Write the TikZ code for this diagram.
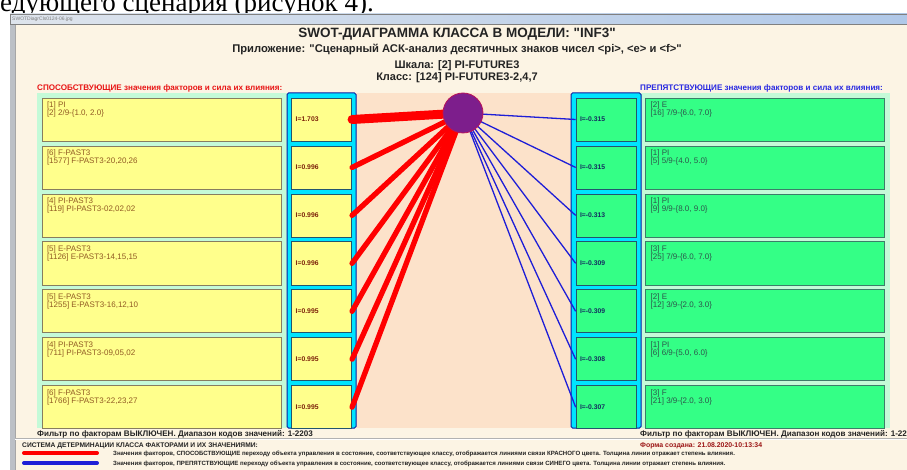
\documentclass[tikz,border=0pt]{standalone}
\usepackage{fontspec}
\setmainfont{Liberation Sans}[Ligatures=TeXOff]
\newfontfamily\docserif{Liberation Serif}
\usepackage{tikz}
\usetikzlibrary{positioning}

\definecolor{wincream}{RGB}{252,244,228}
\definecolor{panelmint}{RGB}{196,250,216}
\definecolor{midpeach}{RGB}{252,226,202}
\definecolor{posyellow}{RGB}{255,255,140}
\definecolor{neggreen}{RGB}{52,255,134}
\definecolor{colcyan}{RGB}{0,228,255}
\definecolor{colframe}{RGB}{10,30,160}
\definecolor{posedge}{RGB}{135,125,95}
\definecolor{negedge}{RGB}{60,125,105}
\definecolor{valedge}{RGB}{35,85,110}
\definecolor{postext}{RGB}{145,90,35}
\definecolor{posvaltext}{RGB}{125,35,10}
\definecolor{negtext}{RGB}{45,85,75}
\definecolor{negvaltext}{RGB}{20,45,95}
\definecolor{linkred}{RGB}{255,0,0}
\definecolor{linkblue}{RGB}{30,30,215}
\definecolor{hubpurple}{RGB}{125,30,140}
\definecolor{hubedge}{RGB}{185,20,90}
\definecolor{headred}{RGB}{232,20,20}
\definecolor{headblue}{RGB}{40,40,225}
\definecolor{darktext}{RGB}{35,35,35}
\definecolor{datered}{RGB}{155,20,20}
\definecolor{barleft}{RGB}{222,228,236}
\definecolor{barright}{RGB}{176,200,232}
\definecolor{frameside}{RGB}{188,192,198}

\newcommand{\fsz}[1]{\fontsize{#1}{#1}\selectfont}
\newcommand{\fitem}[2]{\parbox[c][35pt][t]{229pt}{#1\\{}#2}}

\begin{document}
\begin{tikzpicture}[x=1pt, y=-1pt,
  posbox/.style={rectangle, draw=posedge, fill=posyellow, line width=0.7pt, minimum width=239pt, minimum height=43pt, inner sep=0pt, text=postext, font=\fsz{8}},
  negbox/.style={posbox, draw=negedge, fill=neggreen, text=negtext},
  posval/.style={rectangle, draw=valedge, fill=posyellow, line width=0.7pt, minimum height=43pt, text width=52pt, inner sep=4pt, align=left, text=posvaltext, font=\bfseries\fsz{6.8}},
  negval/.style={posval, fill=neggreen, text=negvaltext},
  valcol/.style={draw=colframe, fill=colcyan, line width=1pt, rounded corners=1.5pt},
  poslink/.style={draw=linkred, line cap=round},
  neglink/.style={draw=linkblue, line width=1.3pt},
  hub/.style={circle, draw=hubedge, fill=hubpurple, line width=0.8pt, minimum size=40pt, inner sep=0pt},
  lbl/.style={inner sep=0pt, text=darktext}
]
\useasboundingbox (0,0) rectangle (907,470);
\clip (0,0) rectangle (907,470);
\fill[white] (0,0) rectangle (907,470);

% page text behind the screenshot
\node[lbl, anchor=base east, font=\docserif\fsz{27}, text=black] (prevline) at (374,12) {следующего сценария (рисунок 4).};

% window
\fill[wincream] (10,24) rectangle (907,470);
\fill[frameside] (10,24) rectangle (15,470);
\draw[gray!70, line width=0.6pt] (15,24) -- (15,470);
\shade[left color=barleft, right color=barright] (10,14) rectangle (907,24);
\draw[gray, line width=0.5pt] (10,14) rectangle (908,24);
\node[lbl, anchor=west, font=\fsz{5}, text=gray] (wintitle) at (12,19) {SWOTDiagrCls0124-06.jpg};

% headings
\node[lbl, anchor=base, font=\bfseries\fsz{13.5}] (title) at (457,38) {SWOT-ДИАГРАММА КЛАССА В МОДЕЛИ: "INF3"};
\node[lbl, anchor=base, font=\bfseries\fsz{11.2}] (app) at (457,52.5) {Приложение: "Сценарный АСК-анализ десятичных знаков чисел <pi>, <e> и <f>"};
\node[lbl, anchor=base, font=\bfseries\fsz{11}] (scale) at (457,69) {Шкала: [2] PI-FUTURE3};
\node[lbl, anchor=base, font=\bfseries\fsz{11}] (klass) at (457,81) {Класс: [124] PI-FUTURE3-2,4,7};
\node[lbl, anchor=base west, font=\bfseries\fsz{8.1}, text=headred] (poshead) at (37,91) {СПОСОБСТВУЮЩИЕ значения факторов и сила их влияния:};
\node[lbl, anchor=base west, font=\bfseries\fsz{8.1}, text=headblue] (neghead) at (640,91) {ПРЕПЯТСТВУЮЩИЕ значения факторов и сила их влияния:};

% panels
\fill[panelmint] (37,93) rectangle (287,427.5);
\fill[panelmint] (641,93) rectangle (890,427.5);
\fill[midpeach] (356,93) rectangle (571,427.5);
\draw[valcol] (287,93) rectangle (356,428);
\draw[valcol] (571,93) rectangle (641,428);

% supporting factors
\node[posbox] (pF1) at (161.5,119.5) {\fitem{[1] PI}{[2] 2/9-\{1.0, 2.0\}}};
\node[posbox, below=4.25pt of pF1] (pF2) {\fitem{[6] F-PAST3}{[1577] F-PAST3-20,20,26}};
\node[posbox, below=4.25pt of pF2] (pF3) {\fitem{[4] PI-PAST3}{[119] PI-PAST3-02,02,02}};
\node[posbox, below=4.25pt of pF3] (pF4) {\fitem{[5] E-PAST3}{[1126] E-PAST3-14,15,15}};
\node[posbox, below=4.25pt of pF4] (pF5) {\fitem{[5] E-PAST3}{[1255] E-PAST3-16,12,10}};
\node[posbox, below=4.25pt of pF5] (pF6) {\fitem{[4] PI-PAST3}{[711] PI-PAST3-09,05,02}};
\node[posbox, below=4.25pt of pF6] (pF7) {\fitem{[6] F-PAST3}{[1766] F-PAST3-22,23,27}};

\node[posval, right=10pt of pF1] (pI1) {I=1.703};
\node[posval, right=10pt of pF2] (pI2) {I=0.996};
\node[posval, right=10pt of pF3] (pI3) {I=0.996};
\node[posval, right=10pt of pF4] (pI4) {I=0.996};
\node[posval, right=10pt of pF5] (pI5) {I=0.995};
\node[posval, right=10pt of pF6] (pI6) {I=0.995};
\node[posval, right=10pt of pF7] (pI7) {I=0.995};

% hindering factors
\node[negval] (nI1) at (606,119.5) {I=-0.315};
\node[negval, below=4.25pt of nI1] (nI2) {I=-0.315};
\node[negval, below=4.25pt of nI2] (nI3) {I=-0.313};
\node[negval, below=4.25pt of nI3] (nI4) {I=-0.309};
\node[negval, below=4.25pt of nI4] (nI5) {I=-0.309};
\node[negval, below=4.25pt of nI5] (nI6) {I=-0.308};
\node[negval, below=4.25pt of nI6] (nI7) {I=-0.307};

\node[negbox, right=9pt of nI1] (nF1) {\fitem{[2] E}{[16] 7/9-\{6.0, 7.0\}}};
\node[negbox, right=9pt of nI2] (nF2) {\fitem{[1] PI}{[5] 5/9-\{4.0, 5.0\}}};
\node[negbox, right=9pt of nI3] (nF3) {\fitem{[1] PI}{[9] 9/9-\{8.0, 9.0\}}};
\node[negbox, right=9pt of nI4] (nF4) {\fitem{[3] F}{[25] 7/9-\{6.0, 7.0\}}};
\node[negbox, right=9pt of nI5] (nF5) {\fitem{[2] E}{[12] 3/9-\{2.0, 3.0\}}};
\node[negbox, right=9pt of nI6] (nF6) {\fitem{[1] PI}{[6] 6/9-\{5.0, 6.0\}}};
\node[negbox, right=9pt of nI7] (nF7) {\fitem{[3] F}{[21] 3/9-\{2.0, 3.0\}}};

% links to the class
\coordinate (ctr) at (463,113);
\draw[poslink, line width=9pt] (ctr) -- (pI1.east);
\draw[poslink, line width=5.3pt] (ctr) -- (pI2.east);
\draw[poslink, line width=5.3pt] (ctr) -- (pI3.east);
\draw[poslink, line width=5.3pt] (ctr) -- (pI4.east);
\draw[poslink, line width=5.3pt] (ctr) -- (pI5.east);
\draw[poslink, line width=5.3pt] (ctr) -- (pI6.east);
\draw[poslink, line width=5.3pt] (ctr) -- (pI7.east);
\draw[neglink] (ctr) -- (nI1.west);
\draw[neglink] (ctr) -- (nI2.west);
\draw[neglink] (ctr) -- (nI3.west);
\draw[neglink] (ctr) -- (nI4.west);
\draw[neglink] (ctr) -- (nI5.west);
\draw[neglink] (ctr) -- (nI6.west);
\draw[neglink] (ctr) -- (nI7.west);
\node[hub] (cls) at (ctr) {};

% footer
\node[lbl, anchor=base west, font=\bfseries\fsz{8.1}] (posfilter) at (37,436.5) {Фильтр по факторам ВЫКЛЮЧЕН. Диапазон кодов значений: 1-2203};
\node[lbl, anchor=base west, font=\bfseries\fsz{8.1}] (negfilter) at (640,436.5) {Фильтр по факторам ВЫКЛЮЧЕН. Диапазон кодов значений: 1-2203};
\draw[gray!60, line width=0.8pt] (15,438.5) -- (907,438.5);
\draw[white, line width=0.6pt] (15,439.5) -- (907,439.5);
\node[lbl, anchor=base west, font=\bfseries\fsz{6.7}] (legtitle) at (22,447) {СИСТЕМА ДЕТЕРМИНАЦИИ КЛАССА ФАКТОРАМИ И ИХ ЗНАЧЕНИЯМИ:};
\node[lbl, anchor=base west, font=\bfseries\fsz{6.9}, text=datered] (formdate) at (640,447.5) {Форма создана: 21.08.2020-10:13:34};
\draw[linkred, line width=4pt, line cap=round] (24,453) -- (97,453);
\draw[linkblue, line width=4pt, line cap=round] (24,463) -- (97,463);
\node[lbl, anchor=base west, font=\bfseries\fsz{6.1}] (legpos) at (113,455.5) {Значения факторов, СПОСОБСТВУЮЩИЕ переходу объекта управления в состояние, соответствующее классу, отображается линиями связи КРАСНОГО цвета. Толщина линии отражает степень влияния.};
\node[lbl, anchor=base west, font=\bfseries\fsz{6.1}] (legneg) at (113,465) {Значения факторов, ПРЕПЯТСТВУЮЩИЕ переходу объекта управления в состояние, соответствующее классу, отображается линиями связи СИНЕГО цвета. Толщина линии отражает степень влияния.};
\end{tikzpicture}
\end{document}
